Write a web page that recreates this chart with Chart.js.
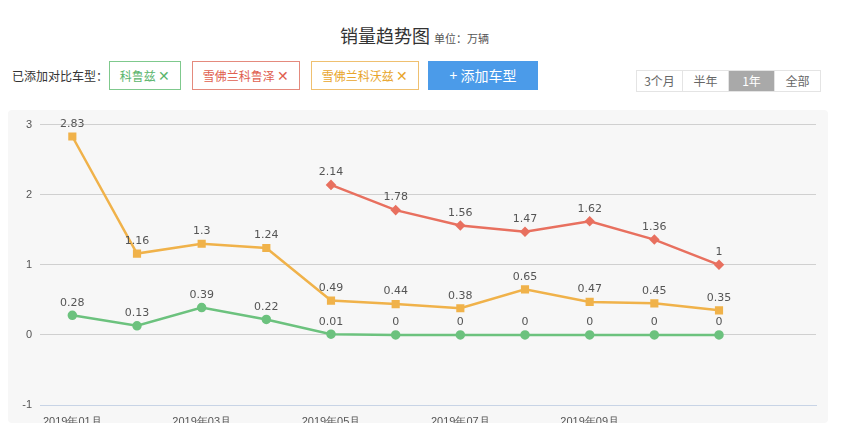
<!DOCTYPE html>
<html><head><meta charset="utf-8">
<script src="https://cdn.jsdelivr.net/npm/chart.js@4"></script>
<style>
body{margin:0;width:852px;height:444px;background:#fff;font-family:"Noto Sans CJK SC","Noto Sans",sans-serif;position:relative;overflow:hidden;color:#333}
.a{position:absolute;white-space:nowrap}
.tag{position:absolute;top:61px;height:27px;line-height:27px;font-size:12px;text-align:center;background:#fff}
.tabs{position:absolute;left:636px;top:70px;height:20px;display:flex;border:1px solid #e4e4e4}
.tabs div{width:45px;text-align:center;font-size:12px;line-height:20px;color:#666;border-right:1px solid #e4e4e4}
#wrap{position:absolute;left:8px;top:110px;width:820px;height:313px;background:#f7f7f7;border-radius:4px}
</style></head><body>
<div class="a" style="left:340px;top:22px;font-size:18px;color:#333">销量趋势图 <span style="font-size:11px;color:#555">单位：万辆</span></div>
<div class="a" style="left:12px;top:67px;font-size:12px;color:#333">已添加对比车型：</div>
<div class="tag" style="left:109px;width:70px;border:1px solid #7fc98d;color:#5bb56d">科鲁兹 <span style="font-size:14px">✕</span></div>
<div class="tag" style="left:192px;width:106px;border:1px solid #e48a7d;color:#e0604f">雪佛兰科鲁泽 <span style="font-size:14px">✕</span></div>
<div class="tag" style="left:311px;width:106px;border:1px solid #efc070;color:#e8a52c">雪佛兰科沃兹 <span style="font-size:14px">✕</span></div>
<div class="tag" style="left:428px;width:110px;height:29px;line-height:29px;background:#4b9be9;color:#fff;font-size:14px">+ 添加车型</div>
<div class="tabs"><div>3个月</div><div>半年</div><div style="background:#a9a9a9;color:#fff">1年</div><div style="border-right:none">全部</div></div>
<div id="wrap"><canvas id="c" width="820" height="313"></canvas></div>
<script>
const categories=["2019年01月","2019年02月","2019年03月","2019年04月","2019年05月","2019年06月","2019年07月","2019年08月","2019年09月","2019年10月","2019年11月",""];
const keluzi=[0.28,0.13,0.39,0.22,0.01,0,0,0,0,0,0,null];
const keluze=[null,null,null,null,2.14,1.78,1.56,1.47,1.62,1.36,1,null];
const kewozi=[2.83,1.16,1.3,1.24,0.49,0.44,0.38,0.65,0.47,0.45,0.35,null];
const yTicks=[-1,0,1,2,3];
const labelPlugin={id:'lbl',afterDatasetsDraw(ch){const ctx=ch.ctx;ctx.save();ctx.font='11px "DejaVu Sans", sans-serif';ctx.fillStyle='#555';ctx.textAlign='center';ctx.textBaseline='bottom';
ch.data.datasets.forEach((ds,i)=>{ch.getDatasetMeta(i).data.forEach((p,j)=>{const v=ds.data[j];if(v==null)return;ctx.fillText(String(v),p.x,p.y-7);});});ctx.restore();}};
function ds(label,data,color,style,r){return{label,data,borderColor:color,backgroundColor:color,pointStyle:style,pointRadius:r,pointHoverRadius:r,borderWidth:2.5,tension:0,spanGaps:false};}
new Chart(document.getElementById('c'),{type:'line',
data:{labels:categories,datasets:[ds('科鲁兹',keluzi,'#6cc27e','circle',3.5),ds('雪佛兰科鲁泽',keluze,'#e8705f','rectRot',3.5),ds('雪佛兰科沃兹',kewozi,'#f0b24a','rect',4)]},
options:{responsive:false,animation:false,plugins:{legend:{display:false},tooltip:{enabled:false}},
layout:{padding:{left:0,right:12,top:8,bottom:0}},
scales:{y:{min:-1,max:3,afterBuildTicks:s=>{s.ticks=yTicks.map(v=>({value:v}));},afterFit:s=>{s.width=32;},
ticks:{color:'#555',font:{size:11},padding:8},grid:{color:'#d0d0d0',drawTicks:false},border:{display:false}},
x:{offset:true,afterFit:s=>{s.height=18;},ticks:{autoSkip:false,maxRotation:0,padding:2,color:'#555',font:{size:11},callback:(v,i)=>(i%2===0&&i<10)?categories[i]:''},
grid:{display:false},border:{display:true,color:'#c8d4e6'}}}},
plugins:[labelPlugin]});
</script></body></html>
